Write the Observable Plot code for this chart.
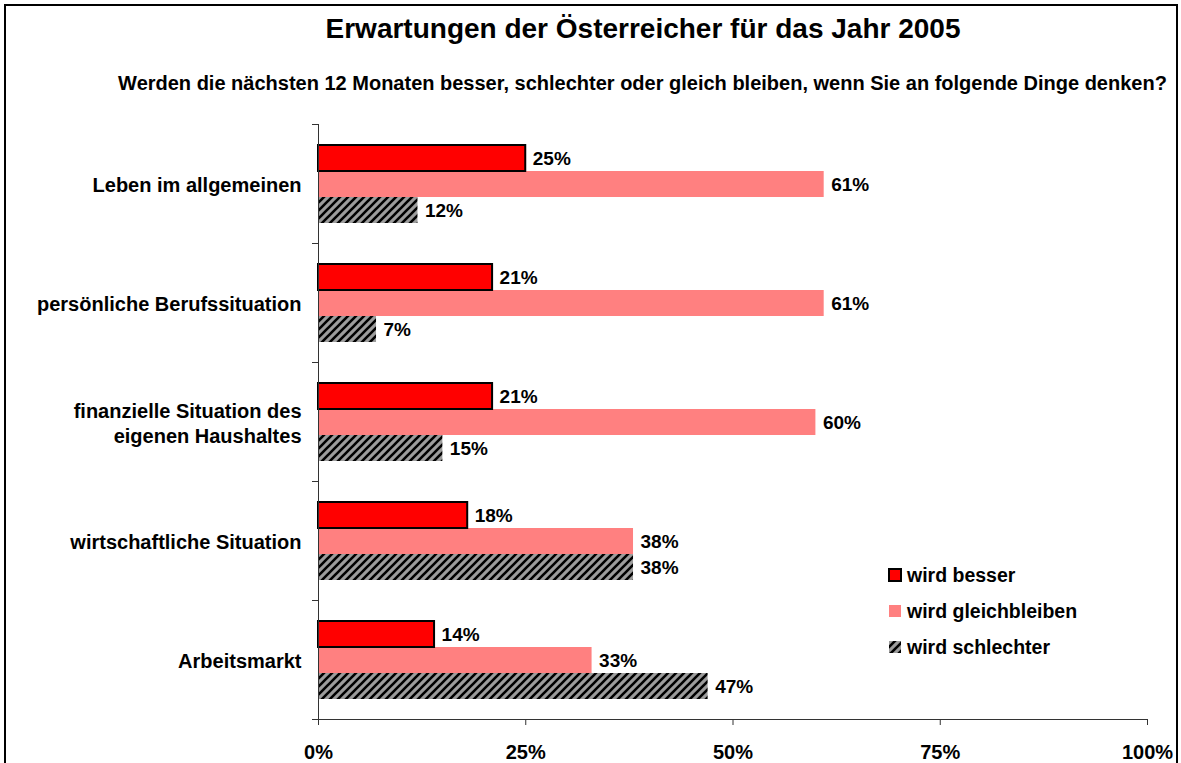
<!DOCTYPE html>
<html><head><meta charset="utf-8">
<script src="https://cdn.jsdelivr.net/npm/d3@7"></script>
<script src="https://cdn.jsdelivr.net/npm/@observablehq/plot@0.6"></script>
<style>
body{margin:0;background:#fff;}
#wrap{position:relative;width:1181px;height:763px;overflow:hidden;font-family:Arial,"Liberation Sans",sans-serif;background:#fff;color:#000;}
#frame{position:absolute;left:4px;top:4px;width:1170px;height:800px;border:2px solid #000;}
#title{position:absolute;left:0;width:1286px;top:13px;text-align:center;font-size:28px;font-weight:bold;white-space:nowrap;}
#subtitle{position:absolute;left:0;width:1285px;top:72px;text-align:center;font-size:20px;font-weight:bold;white-space:nowrap;}
#chart{position:absolute;left:0;top:0;}
#legend{position:absolute;left:888px;top:557px;font-size:19.5px;font-weight:bold;}
#legend .row{display:flex;align-items:center;height:36px;}
#legend svg{margin-right:5px;}
</style></head>
<body>
<svg width="0" height="0" style="position:absolute">
  <defs>
    <pattern id="hatch" patternUnits="userSpaceOnUse" width="8" height="8">
      <rect width="8" height="8" fill="#9c9c9c"/>
      <path d="M-2,2 L2,-2 M0,8 L8,0 M6,10 L10,6" stroke="#000" stroke-width="2.6"/>
    </pattern>
  </defs>
</svg>
<div id="wrap">
  <div id="frame"></div>
  <div id="title">Erwartungen der Österreicher für das Jahr 2005</div>
  <div id="subtitle">Werden die nächsten 12 Monaten besser, schlechter oder gleich bleiben, wenn Sie an folgende Dinge denken?</div>
  <div id="chart"></div>
  <div id="legend"></div>
</div>
<script>
const categories = ["Leben im allgemeinen", "persönliche Berufssituation", "finanzielle Situation des eigenen Haushaltes", "wirtschaftliche Situation", "Arbeitsmarkt"];
const categoryLabels = ["Leben im allgemeinen", "persönliche Berufssituation", "finanzielle Situation des\neigenen Haushaltes", "wirtschaftliche Situation", "Arbeitsmarkt"];
const seriesNames = ["wird besser", "wird gleichbleiben", "wird schlechter"];
const besser = [25, 21, 21, 18, 14];
const gleich = [61, 61, 60, 38, 33];
const schlechter = [12, 7, 15, 38, 47];
const xTicks = [0, 25, 50, 75, 100];

const seriesValues = [besser, gleich, schlechter];
const fills = ["#FF0000", "#FF8080", "url(#hatch)"];
const rows = categories.flatMap((c, i) => seriesNames.map((s, j) => ({cat: c, series: s, value: seriesValues[j][i]})));

const W = 1181, H = 763;
const fontFamily = 'Arial, "Liberation Sans", sans-serif';

const plot = Plot.plot({
  width: W, height: H,
  marginLeft: 318, marginRight: 34, marginTop: 123, marginBottom: 43,
  style: {fontFamily, background: "transparent", color: "#000", overflow: "visible"},
  x: {domain: [0, 100], axis: null},
  y: {domain: seriesNames, paddingInner: 0, paddingOuter: 0.71, axis: null},
  fy: {domain: categories, padding: 0, axis: null},
  marks: [
    Plot.barX(rows.filter(d => d.series === seriesNames[1]), {x: "value", y: "series", fy: "cat", fill: fills[1]}),
    Plot.barX(rows.filter(d => d.series === seriesNames[2]), {x: "value", y: "series", fy: "cat", fill: fills[2]}),
    Plot.barX(rows.filter(d => d.series === seriesNames[0]), {x: "value", y: "series", fy: "cat", fill: fills[0], stroke: "#000", strokeWidth: 2}),
    Plot.text(rows, {x: "value", y: "series", fy: "cat", text: d => d.value + "%", dx: 7, textAnchor: "start", fontSize: 19, fontWeight: "bold", fill: "#000"}),
    Plot.axisFy({anchor: "left", label: null, tickSize: 0, tickPadding: 17, fontSize: 20, fontWeight: "bold", lineHeight: 1.25,
      tickFormat: c => categoryLabels[categories.indexOf(c)]}),
    Plot.axisX({ticks: xTicks, label: null, tickFormat: d => d + "%", tickSize: 6, tickPadding: 19, fontSize: 20, fontWeight: "bold", stroke: "#333"})
  ]
});
document.getElementById("chart").appendChild(plot);

// axis lines and boundary ticks from the library scales
const fy = plot.scale("fy"), xs = plot.scale("x");
const svg = d3.select(plot);
const x0 = xs.apply(0), x1 = xs.apply(100);
const bounds = categories.map(c => fy.apply(c));
bounds.push(fy.apply(categories[categories.length - 1]) + fy.bandwidth);
const g = svg.append("g").attr("stroke", "#333").attr("stroke-width", 1).attr("shape-rendering", "crispEdges");
g.append("line").attr("x1", x0).attr("x2", x0).attr("y1", bounds[0]).attr("y2", bounds[bounds.length - 1]);
g.append("line").attr("x1", x0).attr("x2", x1).attr("y1", bounds[bounds.length - 1]).attr("y2", bounds[bounds.length - 1]);
bounds.forEach(b => g.append("line").attr("x1", x0 - 6).attr("x2", x0).attr("y1", b).attr("y2", b));

// legend
const legend = d3.select("#legend");
seriesNames.forEach((s, j) => {
  const row = legend.append("div").attr("class", "row");
  const sw = row.append("svg").attr("width", 14).attr("height", 14);
  sw.append("rect").attr("x", 1).attr("y", 1).attr("width", 12).attr("height", 12)
    .attr("fill", fills[j]).attr("stroke", j === 0 ? "#000" : "none").attr("stroke-width", 2);
  row.append("span").text(s);
});
</script>
</body></html>
